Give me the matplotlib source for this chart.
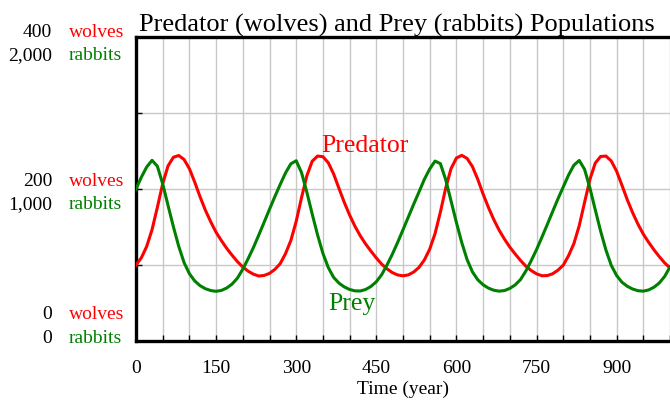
import numpy as np
import matplotlib.pyplot as plt
from matplotlib import transforms

# simulation output, one value every 10 years
years = np.arange(0, 1001, 10)
wolves = [
    100, 109.5, 124.5, 146.5, 176, 207, 230.5, 241.8, 244.1, 238.9,
    226.7, 209, 189.7, 172, 156.8, 143, 132, 121.8, 112.8, 104.4,
    97.4, 91.9, 87.9, 85.5, 86.3, 89, 94.2,
    101.8, 115, 132.3, 157.5, 188.8, 217.6, 236.7, 243.4, 242.6, 234.7,
    220, 201, 182.5, 165.8, 151, 138.4, 127.7, 118.2, 109.3, 101.2,
    95, 90, 86.9, 85.8, 87, 90.8, 96.9,
    106.7, 120.9, 141.3, 169.6, 201.4, 226.9, 240.8, 244.3, 240.3, 229.5,
    212.8, 193.4, 175.7, 159.8, 145.9, 134.1, 123.6, 114.6, 106.1, 98.5,
    92.8, 88.4, 85.9, 86.1, 88.4, 93.1,
    99.7, 112.3, 128.1, 151.7, 182.4, 212.6, 234.1, 242.8, 243.4, 236.9,
    223.5, 205, 185.9, 168.9, 153.8, 140.7, 129.9, 120, 111, 102.8, 96.2,
]
rabbits = [
    1000, 1078, 1145, 1189, 1150, 1034, 892, 752, 623, 516,
    443, 395, 364, 344, 332, 327, 333, 349, 375, 414,
    473, 542, 616, 698, 782, 867, 950,
    1030, 1106, 1166, 1186, 1108, 978, 835, 698, 577, 484,
    419, 381, 356, 339, 330, 329, 339, 359, 390, 436,
    500, 571, 649, 732, 816, 900, 981,
    1064, 1132, 1184, 1167, 1061, 921, 780, 648, 536, 455,
    403, 370, 348, 334, 328, 332, 346, 369, 404, 460,
    528, 601, 682, 765, 850, 934,
    1013, 1092, 1157, 1188, 1130, 1007, 864, 724, 599, 498,
    431, 387, 360, 342, 331, 328, 336, 354, 382, 425, 487,
]

x_labelled = [0, 150, 300, 450, 600, 750, 900]
wolf_levels = [400, 200, 0]
wolf_texts = ['400', '200', '0']
rabbit_texts = ['2,000', '1,000', '0']

RED = '#ff0000'
GREEN = '#008000'

plt.rcParams['font.family'] = ['Liberation Serif', 'DejaVu Serif']

fig = plt.figure(figsize=(6.7, 4.01), dpi=100)
ax = fig.add_axes([0.203, 0.1496, 0.797, 0.758])
ax2 = ax.twinx()

ax.plot(years, wolves, color=RED, lw=2.2, zorder=3, solid_joinstyle='round')
ax2.plot(years, rabbits, color=GREEN, lw=2.2, zorder=3, solid_joinstyle='round')

ax.set_xlim(0, 1000)
ax.set_ylim(0, 400)
ax2.set_ylim(0, 2000)

# grid every 50 years / every quarter of the scale
xt = np.arange(0, 1001, 50)
ax.set_xticks(xt)
ax.set_xticklabels([str(v) if v in x_labelled else '' for v in xt], fontsize=14)
ax.set_yticks([0, 100, 200, 300, 400])
ax.set_yticklabels([])
ax.grid(True, color='#c8c8c8', lw=1.0)
ax.set_axisbelow(True)
ax.tick_params(axis='both', direction='in', length=4, width=1, color='black')
ax.tick_params(axis='x', pad=14)

for a in (ax, ax2):
    a.spines['right'].set_visible(False)
ax2.set_yticks([])
for s in ('left', 'top', 'bottom'):
    ax2.spines[s].set_visible(False)
    ax.spines[s].set_linewidth(2.4)

ax.set_title('Predator (wolves) and Prey (rabbits) Populations', fontsize=19, pad=3, x=0.488)
ax.set_xlabel('Time (year)', fontsize=14, labelpad=2)

# two-line scale labels on the left (number, then unit in series colour)
label_shift = [(0, -16.8), (2.4, -14.4), (15.6, -1.2)]
ytrans = ax.get_yaxis_transform()
for lvl, wt, rt, (dw, dr) in zip(wolf_levels, wolf_texts, rabbit_texts, label_shift):
    tw = transforms.offset_copy(ytrans, fig=fig, y=dw, units='points')
    tr = transforms.offset_copy(ytrans, fig=fig, y=dr, units='points')
    ax.text(-0.157, lvl, wt, transform=tw, ha='right', va='baseline', fontsize=14, clip_on=False)
    ax.text(-0.1255, lvl, 'wolves', transform=tw, ha='left', va='baseline', fontsize=14,
            color=RED, clip_on=False)
    ax.text(-0.157, lvl, rt, transform=tr, ha='right', va='baseline', fontsize=14, clip_on=False)
    ax.text(-0.1255, lvl, 'rabbits', transform=tr, ha='left', va='baseline', fontsize=14,
            color=GREEN, clip_on=False)

ax.text(347, 249, 'Predator', color=RED, fontsize=18.5, ha='left', va='baseline', zorder=4)
ax.text(360, 41, 'Prey', color=GREEN, fontsize=18.5, ha='left', va='baseline', zorder=4)

fig.savefig('out.png', dpi=100)
